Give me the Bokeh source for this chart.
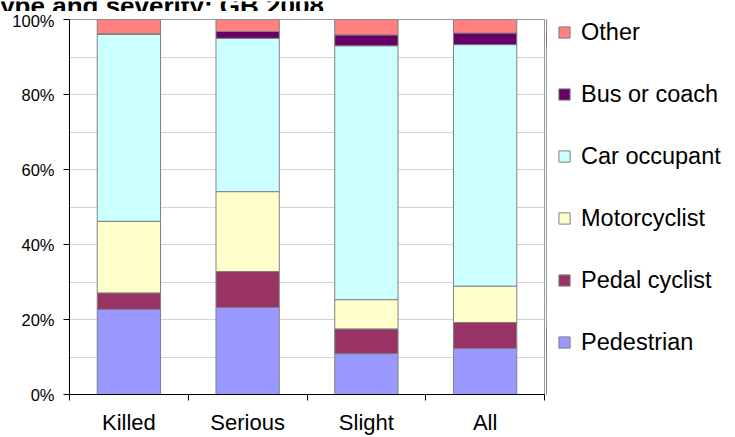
from bokeh.plotting import figure
from bokeh.models import (ColumnDataSource, Range1d, FixedTicker, Legend, LegendItem, Label)
from bokeh.layouts import column, row
from bokeh.embed import file_html
from bokeh.resources import INLINE

severities = ["Killed", "Serious", "Slight", "All"]
pedestrian = [22.7, 23.2, 10.9, 12.3]
pedal_cyclist = [4.4, 9.6, 6.6, 6.9]
motorcyclist = [19.1, 21.3, 7.8, 9.7]
car_occupant = [49.8, 40.9, 67.7, 64.4]
bus_or_coach = [0.2, 1.8, 2.9, 3.1]
other = [3.8, 3.2, 4.1, 3.6]

series_names = ["Pedestrian", "Pedal cyclist", "Motorcyclist", "Car occupant", "Bus or coach", "Other"]
series_keys = ["pedestrian", "pedal", "motor", "car", "bus", "other"]
colors = ["#9999FF", "#993366", "#FFFFCC", "#CCFFFF", "#660066", "#FF8080"]
y_ticks = [0, 20, 40, 60, 80, 100]
grid_ticks = [0, 10, 20, 30, 40, 50, 60, 70, 80, 90, 100]
title_text = "type and severity: GB 2008"

FONT = "Liberation Sans"
TITLE_H = 11
MAIN_W = 546

xpos = [i + 0.5 for i in range(len(severities))]
source = ColumnDataSource(dict(
    x=xpos,
    pedestrian=pedestrian, pedal=pedal_cyclist, motor=motorcyclist,
    car=car_occupant, bus=bus_or_coach, other=other,
))

# ---- title strip (text partly cut at the top, as in the reference)
pt = figure(width=735, height=TITLE_H, output_backend="svg", toolbar_location=None,
            x_range=Range1d(0, 1), y_range=Range1d(0, 1),
            x_axis_location=None, y_axis_location=None, min_border=0)
pt.grid.visible = False
pt.outline_line_color = None
pt.add_layout(Label(x=-9, y=6.5, x_units="screen", y_units="screen",
                    text=title_text, text_font=FONT, text_font_size="26px",
                    text_font_style="bold", text_color="#000000",
                    text_baseline="alphabetic", text_align="left"))

# ---- main chart
p = figure(width=MAIN_W, height=437 - TITLE_H, output_backend="svg", toolbar_location=None,
           x_range=Range1d(0, len(severities)), y_range=Range1d(0, 100),
           min_border_left=69, min_border_right=MAIN_W - 544,
           min_border_top=19 - TITLE_H, min_border_bottom=43)

bar_style = dict(x="x", width=0.533, source=source, fill_color=colors,
                 line_color="#808080", line_width=1)
renderers = p.vbar_stack(series_keys, **bar_style)

p.yaxis.ticker = FixedTicker(ticks=y_ticks)
p.yaxis.major_label_overrides = {t: f"{t}%" for t in y_ticks}
p.yaxis.major_label_text_font = FONT
p.yaxis.major_label_text_font_size = "16.5px"
p.yaxis.major_label_text_color = "#000000"
p.yaxis.major_tick_out = 6
p.yaxis.major_tick_in = 0
p.yaxis.minor_tick_line_color = None
p.yaxis.axis_line_color = "#000000"
p.yaxis.major_tick_line_color = "#000000"
p.yaxis.major_label_standoff = 9

p.xaxis.ticker = FixedTicker(ticks=xpos, minor_ticks=list(range(len(severities) + 1)))
p.xaxis.major_label_overrides = {x: s for x, s in zip(xpos, severities)}
p.xaxis.major_label_text_font = FONT
p.xaxis.major_label_text_font_size = "22px"
p.xaxis.major_label_text_color = "#000000"
p.xaxis.major_tick_line_color = None
p.xaxis.major_tick_out = 6
p.xaxis.major_tick_in = 0
p.xaxis.minor_tick_out = 6
p.xaxis.minor_tick_in = 0
p.xaxis.minor_tick_line_color = "#000000"
p.xaxis.axis_line_color = "#000000"
p.xaxis.major_label_standoff = 9

p.xgrid.grid_line_color = None
p.ygrid.ticker = FixedTicker(ticks=grid_ticks)
p.ygrid.grid_line_color = "#D4D4D4"
p.outline_line_color = "#999999"

# ---- legend panel (its own bars lie outside its visible range; only the legend shows)
pl = figure(width=735 - MAIN_W, height=437 - TITLE_H, output_backend="svg", toolbar_location=None,
            x_range=Range1d(10, 11), y_range=Range1d(0, 100),
            x_axis_location=None, y_axis_location=None, min_border=0)
pl.grid.visible = False
pl.outline_line_color = None
leg_renderers = pl.vbar_stack(series_keys, **bar_style)
items = [LegendItem(label=n, renderers=[r]) for n, r in zip(series_names, leg_renderers)][::-1]
legend = Legend(items=items, location=(11, 37), orientation="vertical",
                label_text_font=FONT, label_text_font_size="23.5px", label_text_color="#000000",
                glyph_width=14, glyph_height=14, label_height=30, label_standoff=10,
                spacing=32, padding=0, margin=0, border_line_color=None,
                background_fill_alpha=0)
pl.add_layout(legend)

layout = column(pt, row(p, pl))

open("out.html", "w").write(file_html(layout, INLINE))
